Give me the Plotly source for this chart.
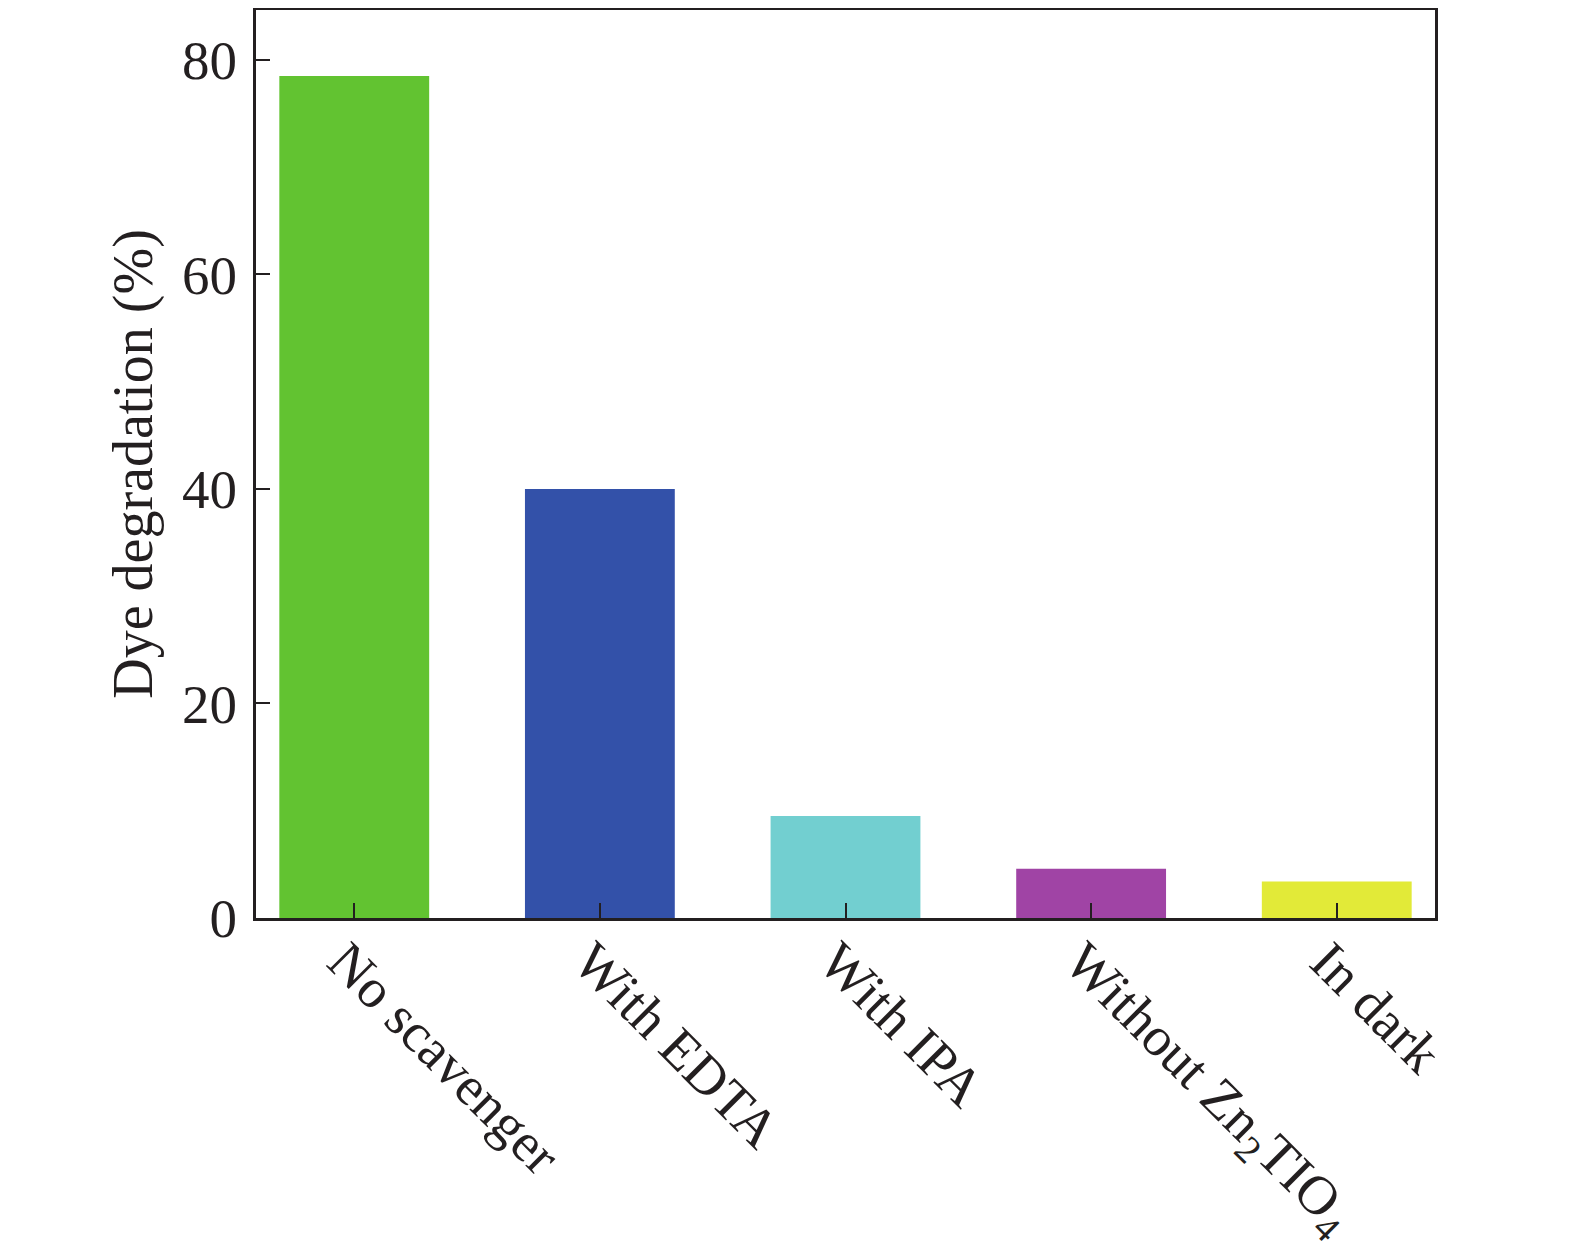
import plotly.graph_objects as go

categories = ["No scavenger", "With EDTA", "With IPA",
              "Without Zn<sub>2</sub>TIO<sub>4</sub>", "In dark"]
values = [78.5, 40.0, 9.5, 4.6, 3.4]
colors = ["#62C331", "#3351A9", "#72CFD0", "#A044A5", "#E2EA38"]
y_ticks = [0, 20, 40, 60, 80]

axis_color = "#231F20"
font_family = "Liberation Serif"

fig = go.Figure(go.Bar(
    x=categories,
    y=values,
    marker=dict(color=colors, line=dict(width=0)),
    width=0.61,
))

fig.update_layout(
    template="none",
    width=1567, height=1252,
    margin=dict(l=248, r=140, t=2, b=342, autoexpand=False),
    paper_bgcolor="white", plot_bgcolor="white",
    font=dict(family=font_family, size=55, color=axis_color),
    showlegend=False,
)

fig.update_xaxes(
    range=[-0.4, 4.4], automargin=False,
    showline=True, linecolor=axis_color, linewidth=3, mirror=True,
    ticks="inside", ticklen=15, tickwidth=2, tickcolor=axis_color,
    tickangle=45, showgrid=False,
    ticklabelstandoff=-14, ticklabelshift=-10,
    tickfont=dict(size=55, family=font_family),
)
fig.update_yaxes(
    range=[0, 84.66], automargin=False,
    tickvals=y_ticks,
    showline=True, linecolor=axis_color, linewidth=3, mirror=True,
    ticks="inside", ticklen=14, tickwidth=2, tickcolor=axis_color,
    showgrid=False, zeroline=False,
    ticklabelstandoff=5,
    title=dict(text="Dye degradation (%)", font=dict(size=56, family=font_family), standoff=12),
    tickfont=dict(size=55, family=font_family),
)

fig.write_html("out.html")
